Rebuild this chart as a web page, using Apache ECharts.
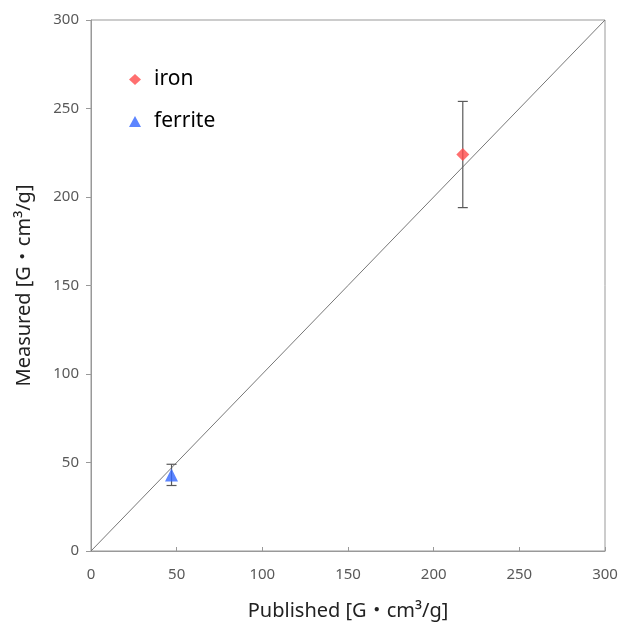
<!DOCTYPE html>
<html><head><meta charset="utf-8">
<script src="https://cdn.jsdelivr.net/npm/echarts@6/dist/echarts.min.js"></script>
<style>html,body{margin:0;padding:0;background:#fff}#c{width:629px;height:626px}</style>
</head><body><div id="c"></div>
<script>
const ironPoint = [[217, 224]];
const ironErr = [[217, 194, 254]];
const ferritePoint = [[47, 43]];
const ferriteErr = [[47, 37, 49]];
const diagonal = [[0, 0], [300, 300]];
const axisTicks = [0, 50, 100, 150, 200, 250, 300];

const chart = echarts.init(document.getElementById('c'));
const font = '"Noto Sans", "Noto Sans CJK JP", sans-serif';
function errSeries(data){
  return {
    type:'custom', silent:true, z:3,
    renderItem:function(params, api){
      const x = api.value(0);
      const lo = api.coord([x, api.value(1)]);
      const hi = api.coord([x, api.value(2)]);
      const w = 5;
      const st = {stroke:'#595959', lineWidth:1.2};
      return {type:'group', children:[
        {type:'line', shape:{x1:lo[0],y1:lo[1],x2:hi[0],y2:hi[1]}, style:st},
        {type:'line', shape:{x1:lo[0]-w,y1:lo[1],x2:lo[0]+w,y2:lo[1]}, style:st},
        {type:'line', shape:{x1:hi[0]-w,y1:hi[1],x2:hi[0]+w,y2:hi[1]}, style:st}
      ]};
    },
    encode:{x:0, y:[1,2]},
    data:data
  };
}
chart.setOption({
  animation:false,
  backgroundColor:'#fff',
  textStyle:{fontFamily:font},
  grid:{left:91, right:24, top:20, bottom:75, show:true, borderColor:'#999', borderWidth:1},
  legend:{
    orient:'vertical', left:124, top:64, itemGap:21, itemWidth:12, itemHeight:11,
    textStyle:{fontSize:21, color:'#000', fontFamily:font, padding:[0,0,0,8]},
    data:[{name:'iron', icon:'diamond'},{name:'ferrite', icon:'triangle'}]
  },
  xAxis:{
    type:'value', min:0, max:300, interval:50,
    name:'Published [G・cm³/g]', nameLocation:'middle', nameGap:50,
    nameTextStyle:{fontSize:20, color:'#222', fontFamily:font},
    axisLine:{lineStyle:{color:'#999'}},
    axisTick:{inside:true, length:4, lineStyle:{color:'#999'}},
    axisLabel:{fontSize:15, color:'#595959', margin:16},
    splitLine:{show:false}
  },
  yAxis:{
    type:'value', min:0, max:300, interval:50,
    name:'Measured [G・cm³/g]', nameLocation:'middle', nameGap:57,
    nameTextStyle:{fontSize:20, color:'#222', fontFamily:font},
    axisLine:{show:true, lineStyle:{color:'#999'}},
    axisTick:{show:true, length:5, lineStyle:{color:'#999'}},
    axisLabel:{fontSize:15, color:'#595959', margin:12},
    splitLine:{show:false}
  },
  series:[
    {type:'line', data:diagonal, symbol:'none', lineStyle:{color:'#777', width:1}, silent:true, z:1},
    errSeries(ironErr),
    errSeries(ferriteErr),
    {name:'iron', type:'scatter', data:ironPoint, symbol:'diamond', symbolSize:[13,13], itemStyle:{color:'#FF4B4B'}, z:5},
    {name:'ferrite', type:'scatter', data:ferritePoint, symbol:'triangle', symbolSize:[13,13], itemStyle:{color:'#3366FF'}, z:5}
  ]
});
</script></body></html>
